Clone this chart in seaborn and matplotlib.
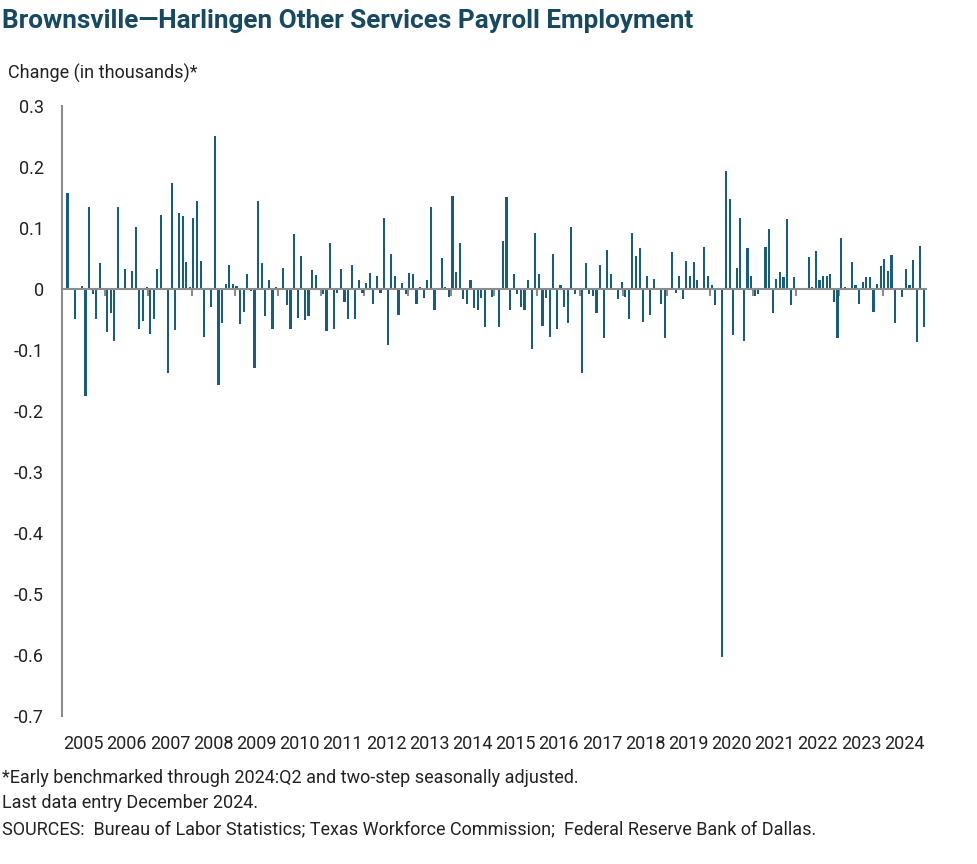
import pandas as pd
import seaborn as sns
import matplotlib.pyplot as plt
import matplotlib.ticker as mticker


# monthly change, thousands (2005 starts in February)
chg_2005 = [0.158, 0.002, -0.049, 0.0, 0.005, -0.176, 0.134, -0.008, -0.049, 0.042, 0.0]
chg_2006 = [-0.071, -0.040, -0.085, 0.134, 0.002, 0.032, 0.0, 0.029, 0.102, -0.065, -0.052, 0.004]
chg_2007 = [-0.073, -0.049, 0.032, 0.122, 0.0, -0.138, 0.173, -0.068, 0.124, 0.119, 0.045, 0.004]
chg_2008 = [0.117, 0.145, 0.046, -0.079, 0.0, -0.029, 0.251, -0.157, -0.055, 0.009, 0.040, 0.008]
chg_2009 = [0.005, -0.058, -0.037, 0.024, -0.003, -0.130, 0.144, 0.043, -0.044, 0.015, -0.065, 0.004]
chg_2010 = [0.0, 0.034, -0.027, -0.066, 0.090, -0.047, 0.054, -0.050, -0.044, 0.031, 0.023, 0.0]
chg_2011 = [-0.008, -0.069, 0.075, -0.065, -0.007, 0.032, -0.022, -0.049, 0.040, -0.049, 0.015, -0.006]
chg_2012 = [0.010, 0.026, -0.024, 0.021, -0.007, 0.117, -0.091, 0.057, 0.021, -0.042, 0.010, -0.009]
chg_2013 = [0.027, 0.024, -0.024, 0.004, -0.014, 0.014, 0.135, -0.035, 0.0, 0.051, 0.003, -0.013]
chg_2014 = [0.153, 0.028, 0.076, -0.017, -0.024, 0.014, -0.031, -0.034, -0.014, -0.062, 0.0, -0.013]
chg_2015 = [0.0, -0.063, 0.079, 0.151, -0.035, 0.025, -0.009, -0.029, -0.035, 0.015, -0.099, 0.091]
chg_2016 = [0.025, -0.060, -0.014, -0.078, 0.057, -0.065, 0.006, -0.029, -0.055, 0.101, -0.008, 0.0]
chg_2017 = [-0.138, 0.042, -0.009, -0.011, -0.040, 0.040, -0.081, 0.064, 0.025, 0.0, -0.016, 0.012]
chg_2018 = [-0.013, -0.049, 0.091, 0.054, 0.068, -0.054, 0.021, -0.042, 0.017, 0.0, -0.024, -0.080]
chg_2019 = [0.0, 0.060, -0.006, 0.022, -0.017, 0.046, 0.021, 0.045, 0.014, 0.0, 0.069, 0.021]
chg_2020 = [0.007, -0.026, 0.0, -0.603, 0.194, 0.148, -0.075, 0.035, 0.117, -0.086, 0.067, 0.021]
chg_2021 = [-0.011, -0.009, 0.0, 0.069, 0.099, -0.040, 0.017, 0.028, 0.019, 0.115, -0.027, 0.019]
chg_2022 = [0.0, 0.0, 0.0, 0.053, 0.004, 0.063, 0.015, 0.022, 0.021, 0.024, -0.022, -0.080]
chg_2023 = [0.084, 0.003, 0.0, 0.044, 0.007, -0.025, 0.012, 0.019, 0.019, -0.038, 0.009, 0.038]
chg_2024 = [0.050, 0.030, 0.055, -0.055, 0.0, -0.013, 0.032, 0.007, 0.048, -0.087, 0.071, -0.063]

years = list(range(2005, 2025))
y_ticks = [0.3, 0.2, 0.1, 0, -0.1, -0.2, -0.3, -0.4, -0.5, -0.6, -0.7]

values = (chg_2005 + chg_2006 + chg_2007 + chg_2008 + chg_2009 + chg_2010 + chg_2011
          + chg_2012 + chg_2013 + chg_2014 + chg_2015 + chg_2016 + chg_2017 + chg_2018
          + chg_2019 + chg_2020 + chg_2021 + chg_2022 + chg_2023 + chg_2024)
months = pd.date_range('2005-02-01', periods=len(values), freq='MS').strftime('%Y-%m')
df = pd.DataFrame({'month': months, 'change': values})

bar_color = '#175d7e'
title_color = '#174a62'
grey = '#8c8c8c'

sns.set_style('white')
plt.rcParams['font.family'] = ['Roboto', 'DejaVu Sans']
plt.rcParams['axes.unicode_minus'] = False

fig = plt.figure(figsize=(9.77, 8.64), dpi=100)
ax = fig.add_axes([0.0635, 0.1713, 0.884, 0.706])

sns.barplot(data=df, x='month', y='change', color=bar_color, saturation=1,
            width=0.6, linewidth=0, ax=ax)

# Jan 2005 slot is empty, so axis starts one slot left of the first bar
ax.set_xlim(-1.5, len(values) - 0.5)
ax.set_ylim(-0.7, 0.3)
ax.set_xlabel('')
ax.set_ylabel('')

ax.set_yticks(y_ticks)
ax.yaxis.set_major_formatter(mticker.FuncFormatter(lambda v, p: '0' if abs(v) < 1e-9 else '{:g}'.format(v)))
ax.tick_params(axis='y', length=0, pad=13, labelsize=13, labelcolor='#222222')

# zero line carries the year-boundary ticks
ax.spines['bottom'].set_position(('data', 0))
ax.spines['bottom'].set_color(grey)
ax.spines['bottom'].set_linewidth(1.5)
ax.spines['left'].set_color(grey)
ax.spines['left'].set_linewidth(1.5)
ax.spines['top'].set_visible(False)
ax.spines['right'].set_visible(False)
ax.set_xticks([12 * i + 10.5 for i in range(len(years) - 1)])
ax.tick_params(axis='x', length=5, width=1.5, color=grey, direction='out',
               labelbottom=False, bottom=True)

# year labels at the bottom of the plot
sec = ax.secondary_xaxis('bottom')
sec.set_xticks([12 * i + 4.5 for i in range(len(years))])
sec.set_xticklabels([str(y) for y in years])
sec.tick_params(length=0, pad=14, labelsize=13, labelcolor='#222222')
sec.spines['bottom'].set_visible(False)

fig.text(0.002, 0.990, 'Brownsville\u2014Harlingen Other Services Payroll Employment',
         fontsize=18.8, fontweight='bold', color=title_color, va='top', ha='left')
fig.text(0.008, 0.9155, 'Change (in thousands)*', fontsize=13, color='#222222',
         va='center', ha='left')

notes = ['*Early benchmarked through 2024:Q2 and two-step seasonally adjusted.',
         'Last data entry December 2024.',
         'SOURCES:  Bureau of Labor Statistics; Texas Workforce Commission;  Federal Reserve Bank of Dallas.']
for yy, txt in zip([0.0995, 0.0706, 0.0405], notes):
    fig.text(0.002, yy, txt, fontsize=13, color='#222222', va='center', ha='left')

fig.savefig('out.png', dpi=100)
